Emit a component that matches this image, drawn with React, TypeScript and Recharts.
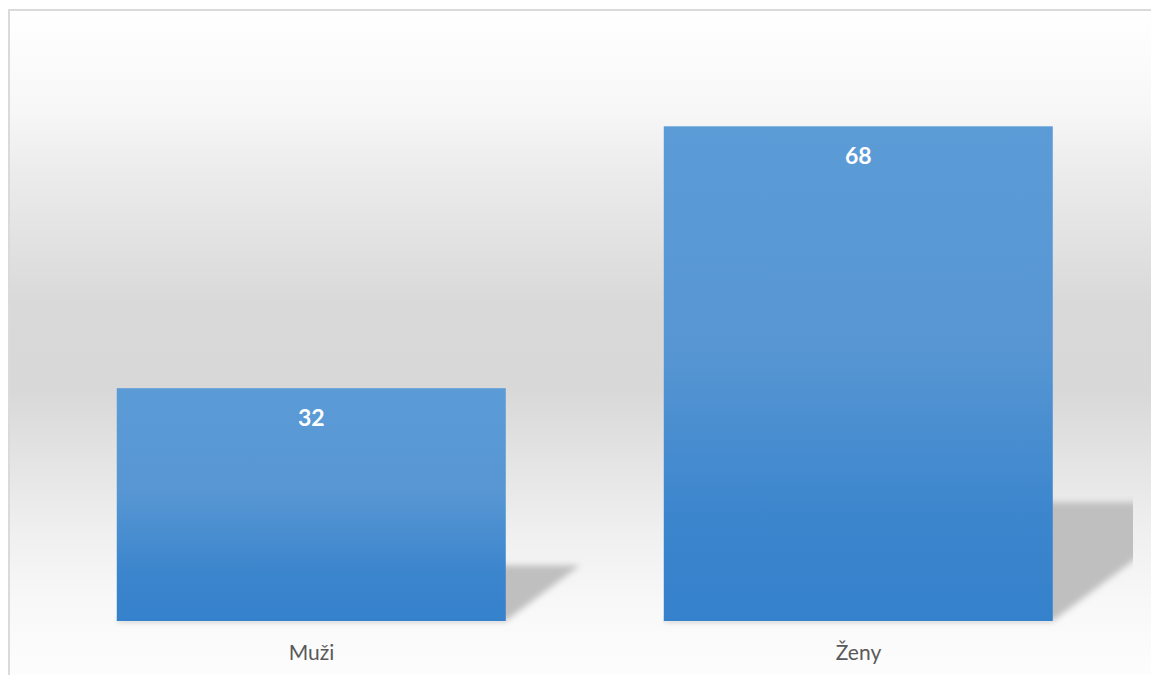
import { BarChart, Bar, XAxis, YAxis, LabelList } from 'recharts';

const categories = ['Muži', 'Ženy'];
const values = [32, 68];
const yTicks = [0, 80];

const data = categories.map((name, i) => ({ name, value: values[i] }));

const W = 1143;
const H = 666;
const margin = { top: 28, right: 17, bottom: 0, left: 30 };
const font = 'Lato, "Open Sans", sans-serif';

// bar with a perspective shadow cast to the right
const ShadowBar = (props: any) => {
    const { x, y, width, height } = props;
    if (!height || height <= 0) return null;
    const base = y + height;
    const sh = height * 0.24;
    const off = sh * 1.33;
    const pts = [
        [x, base],
        [x + width, base],
        [x + width + off, base - sh],
        [x + off, base - sh],
    ].map(p => p.join(',')).join(' ');
    return (
        <g>
            <g clipPath="url(#plotClip)">
                <polygon points={pts} fill="#bfbfbf" filter="url(#shadowBlur)" />
            </g>
            <rect x={x} y={base} width={width} height={2} fill="#e6e6e6" filter="url(#shadowBlur2)" />
            <rect x={x} y={y} width={width} height={height} fill="url(#barGrad)" />
        </g>
    );
};

export default function App() {
    return (
        <div style={{ position: 'absolute', left: 0, top: 0, width: 1151, height: 675, overflow: 'hidden', background: '#fff' }}>
            <style>{'body{margin:0;overflow:hidden}'}</style>
            <div
                style={{
                    position: 'absolute',
                    left: 8,
                    top: 9,
                    width: W,
                    height: H,
                    borderLeft: '2px solid #dadada',
                    borderTop: '2px solid #dadada',
                    boxSizing: 'border-box',
                    background:
                        'linear-gradient(to bottom, #ffffff 0%, #f7f7f7 15%, #ececec 24%, #d9d9d9 44%, #d8d8d8 57%, #e2e2e2 66%, #efefef 78%, #f8f8f8 89%, #fdfdfd 100%)',
                }}
            >
                <BarChart
                    width={W - 2}
                    height={H - 2}
                    data={data}
                    margin={margin}
                    barCategoryGap="14.4%"
                    style={{ position: 'absolute', left: -2, top: 0 }}
                >
                    <defs>
                        <linearGradient id="barGrad" x1="0" y1="0" x2="0" y2="1">
                            <stop offset="0%" stopColor="#5b9bd6" />
                            <stop offset="45%" stopColor="#5796d3" />
                            <stop offset="80%" stopColor="#3b85cd" />
                            <stop offset="100%" stopColor="#3581cb" />
                        </linearGradient>
                        <filter id="shadowBlur" x="-30%" y="-30%" width="160%" height="160%">
                            <feGaussianBlur stdDeviation="3" />
                        </filter>
                        <filter id="shadowBlur2" x="-10%" y="-200%" width="120%" height="500%">
                            <feGaussianBlur stdDeviation="1" />
                        </filter>
                        <clipPath id="plotClip">
                            <rect x={0} y={0} width={W - 2 - margin.right + 1} height={H} />
                        </clipPath>
                    </defs>
                    <YAxis hide domain={[yTicks[0], yTicks[1]]} ticks={yTicks} />
                    <XAxis
                        dataKey="name"
                        height={54}
                        axisLine={false}
                        tickLine={false}
                        tickMargin={18}
                        tick={{ fill: '#595959', fontSize: 21, fontFamily: font }}
                    />
                    <Bar dataKey="value" shape={ShadowBar} isAnimationActive={false}>
                        <LabelList
                            dataKey="value"
                            position="insideTop"
                            offset={21}
                            fill="#ffffff"
                            fontSize={23}
                            fontWeight="bold"
                            fontFamily={font}
                        />
                    </Bar>
                </BarChart>
            </div>
        </div>
    );
}
